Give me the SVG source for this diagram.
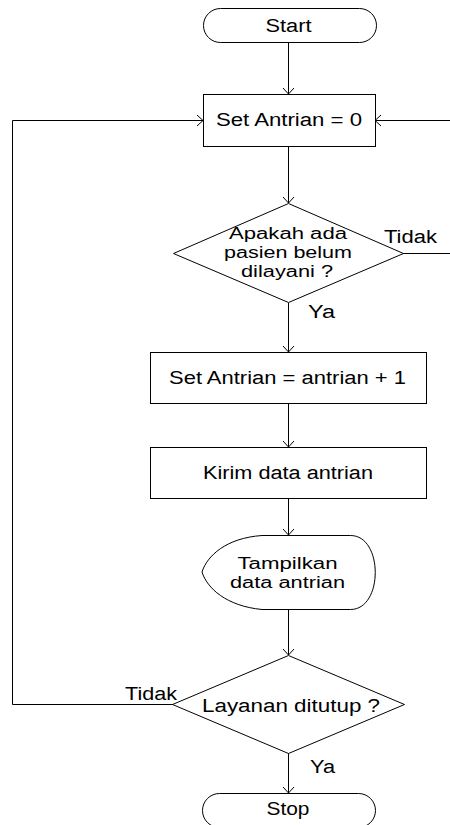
<svg xmlns="http://www.w3.org/2000/svg" width="450" height="825" viewBox="0 0 450 825">
  <style>
    .shape { fill: #ffffff; stroke: #000000; stroke-width: 1; }
    .edge { fill: none; stroke: #000000; stroke-width: 1; }
    text { font-family: "Liberation Sans", Arial, sans-serif; font-size: 18px; fill: #000000; }
    .c { text-anchor: middle; }
    .ml { font-size: 16px; }
  </style>
  <defs>
    <marker id="arrow" markerUnits="userSpaceOnUse" viewBox="-8 -7 9 14" refX="0" refY="0" markerWidth="9" markerHeight="14" orient="auto">
      <path d="M-6,-5.5 L0,0 L-6,5.5" fill="none" stroke="#000000" stroke-width="1"/>
    </marker>
  </defs>

  <rect width="450" height="825" fill="#ffffff"/>

  <!-- connectors -->
  <g id="connectors">
    <path class="edge" d="M288.5,42 V94" marker-end="url(#arrow)"/>
    <path class="edge" d="M288.5,146 V203" marker-end="url(#arrow)"/>
    <path class="edge" d="M288.5,303 V352" marker-end="url(#arrow)"/>
    <path class="edge" d="M288.5,403 V447" marker-end="url(#arrow)"/>
    <path class="edge" d="M288.5,498 V535" marker-end="url(#arrow)"/>
    <path class="edge" d="M288.5,609 V655" marker-end="url(#arrow)"/>
    <path class="edge" d="M288.5,753 V793" marker-end="url(#arrow)"/>
    <!-- "Tidak" from the closing check loops back to the counter reset -->
    <path class="edge" d="M173,704.5 H12.5 V120.5 H203" marker-end="url(#arrow)"/>
    <!-- "Tidak" from the patient check returns along the right side -->
    <path class="edge" d="M403,253.5 H460 V120.5 H375" marker-end="url(#arrow)"/>
  </g>

  <g id="start">
    <rect class="shape" x="203.5" y="8.5" width="173" height="34" rx="17" ry="17"/>
    <text class="c" x="288.5" y="31.5" textLength="46" lengthAdjust="spacingAndGlyphs">Start</text>
  </g>

  <g id="set-antrian-0">
    <rect class="shape" x="203.5" y="94.5" width="172" height="52"/>
    <text class="c" x="289" y="126" textLength="146" lengthAdjust="spacingAndGlyphs">Set Antrian = 0</text>
  </g>

  <g id="cek-pasien">
    <polygon class="shape" points="288.5,203.5 403.5,253.5 288.5,302.5 173.5,253.5"/>
    <text class="c ml" x="288" y="239" textLength="118" lengthAdjust="spacingAndGlyphs">Apakah ada</text>
    <text class="c ml" x="288" y="258" textLength="128" lengthAdjust="spacingAndGlyphs">pasien belum</text>
    <text class="c ml" x="287" y="276.5" textLength="92" lengthAdjust="spacingAndGlyphs">dilayani ?</text>
    <text x="384" y="243" textLength="53" lengthAdjust="spacingAndGlyphs">Tidak</text>
    <text x="308" y="318" textLength="27" lengthAdjust="spacingAndGlyphs">Ya</text>
  </g>

  <g id="tambah-antrian">
    <rect class="shape" x="150.5" y="352.5" width="276" height="51"/>
    <text class="c" x="287.5" y="384" textLength="237" lengthAdjust="spacingAndGlyphs">Set Antrian = antrian + 1</text>
  </g>

  <g id="kirim-data">
    <rect class="shape" x="150.5" y="447.5" width="276" height="51"/>
    <text class="c" x="288" y="479" textLength="170" lengthAdjust="spacingAndGlyphs">Kirim data antrian</text>
  </g>

  <g id="tampilkan-data">
    <path class="shape" d="M350.5,535.5 L262,535.5 C226,538 207,556 202,572 C207,588 226,606 262,609.5 L350.5,609.5 C383.5,609.5 383.5,535.5 350.5,535.5 Z"/>
    <text class="c ml" x="287.5" y="569" textLength="100" lengthAdjust="spacingAndGlyphs">Tampilkan</text>
    <text class="c ml" x="287.5" y="588" textLength="115" lengthAdjust="spacingAndGlyphs">data antrian</text>
  </g>

  <g id="cek-layanan">
    <polygon class="shape" points="288.5,655.5 404.5,704.5 288.5,753.5 172.5,704.5"/>
    <text class="c" x="291" y="712" textLength="178" lengthAdjust="spacingAndGlyphs">Layanan ditutup ?</text>
    <text x="125" y="700" textLength="52" lengthAdjust="spacingAndGlyphs">Tidak</text>
    <text x="310" y="773" textLength="25" lengthAdjust="spacingAndGlyphs">Ya</text>
  </g>

  <g id="stop">
    <rect class="shape" x="202.5" y="793.5" width="173" height="34" rx="17" ry="17"/>
    <text class="c" x="288" y="815" textLength="43" lengthAdjust="spacingAndGlyphs">Stop</text>
  </g>
</svg>
